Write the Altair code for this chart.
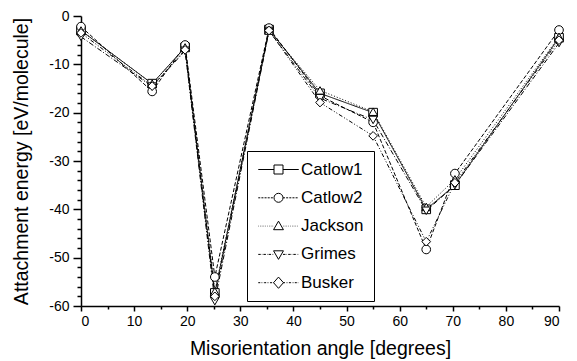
import altair as alt
import pandas as pd

angles = [0, 13.4, 19.6, 25.2, 35.4, 45, 55, 65, 70.4, 90]
series_names = ["Catlow1", "Catlow2", "Jackson", "Grimes", "Busker"]
catlow1 = [-3, -14, -6.5, -57.3, -2.8, -16, -20, -40, -35, -4.5]
catlow2 = [-2.2, -15.6, -6, -54, -2.5, -16.5, -22, -48.3, -32.6, -2.9]
jackson = [-3, -14, -6.5, -57, -3, -15.4, -19.8, -39.5, -33.8, -4.3]
grimes = [-4.3, -14.6, -7.2, -59, -3.1, -17, -21.5, -40.3, -35, -5.6]
busker = [-3.5, -14.5, -7, -58, -3, -17.9, -24.8, -46.7, -34.5, -5]

values = [catlow1, catlow2, jackson, grimes, busker]
rows = []
for name, vals in zip(series_names, values):
    for a, v in zip(angles, vals):
        rows.append({"series": name, "angle": a, "energy": v})
df = pd.DataFrame(rows)

FONT = "Liberation Sans"
dashes = [[1, 0], [4, 2], [1, 2], [5, 2, 1, 2], [4, 2, 1, 2, 1, 2]]
shapes = ["square", "circle", "triangle-up", "triangle-down", "diamond"]


def seg_path(pattern):
    out = []
    for start, end in [(-4.5, -1.0), (1.0, 4.5)]:
        x = start
        i = 0
        while x < end - 1e-6:
            d = pattern[i % len(pattern)]
            g = pattern[(i + 1) % len(pattern)]
            x2 = min(x + d, end)
            out.append(f"M{x:.2f},0L{max(x2, x + 0.05):.2f},0")
            x = x2 + g
            i += 2
    return "".join(out)


legend_patterns = [[3.5, 0.0], [0.45, 0.25], [0.1, 0.3], [0.55, 0.25, 0.1, 0.25],
                   [0.45, 0.22, 0.1, 0.22, 0.1, 0.22]]
marker_paths = [
    "M-1,-1L1,-1L1,1L-1,1Z",
    "M1,0A1,1 0 1,1 -1,0A1,1 0 1,1 1,0Z",
    "M0,-1.1L1.1,0.8L-1.1,0.8Z",
    "M0,1.1L1.1,-0.8L-1.1,-0.8Z",
    "M0,-1.25L1.1,0L0,1.25L-1.1,0Z",
]
legend_shapes = [seg_path(p) + m for p, m in zip(legend_patterns, marker_paths)]

x_ticks = list(range(0, 91, 5))
y_ticks = list(range(-60, 1, 2))

xenc = alt.X("angle:Q",
             scale=alt.Scale(domain=[0, 90], nice=False, zero=False),
             axis=alt.Axis(values=x_ticks,
                           labelExpr="indexof([0,10,20,30,40,50,60,70,80,90], datum.value) >= 0 ? '' + datum.value : ''",
                           labelOverlap=False,
                           tickSize={"condition": {"test": "datum.value % 10 === 0", "value": 5}, "value": 3},
                           title="Misorientation angle [degrees]",
                           titlePadding=11, labelPadding=3))
yenc = alt.Y("energy:Q",
             scale=alt.Scale(domain=[-60, 0], nice=False, zero=False),
             axis=alt.Axis(values=y_ticks,
                           labelExpr="indexof([0,-10,-20,-30,-40,-50,-60], datum.value) >= 0 ? '' + datum.value : ''",
                           labelOverlap=False,
                           tickSize={"condition": {"test": "datum.value % 10 === 0", "value": 8}, "value": 4},
                           title="Attachment energy [eV/molecule]",
                           titlePadding=17, labelPadding=4))

lines = alt.Chart(df).mark_line(color="black", strokeWidth=1).encode(
    x=xenc, y=yenc,
    strokeDash=alt.StrokeDash("series:N", scale=alt.Scale(domain=series_names, range=dashes), legend=None),
    detail="series:N",
)

points = alt.Chart(df).mark_point(filled=True, fill="white", stroke="black", strokeWidth=1, size=75, opacity=1).encode(
    x=xenc, y=yenc,
    shape=alt.Shape("series:N", scale=alt.Scale(domain=series_names, range=shapes), legend=None),
)

legend_layer = alt.Chart(df).mark_point(filled=False, color="black", strokeWidth=1, size=81, opacity=0).encode(
    x=xenc, y=yenc,
    shape=alt.Shape("series:N", scale=alt.Scale(domain=series_names, range=legend_shapes),
                    legend=alt.Legend(title=None, orient="none", legendX=166, legendY=135,
                                      fillColor="white", strokeColor="black", padding=10,
                                      symbolOpacity=1, symbolSize=81, symbolStrokeWidth=1,
                                      symbolStrokeColor="black", symbolFillColor="transparent",
                                      labelFont=FONT, labelFontSize=17, labelColor="black",
                                      labelOffset=14, rowPadding=10.3, symbolOffset=13)),
)

chart = alt.layer(lines, points, legend_layer).resolve_scale(shape="independent").properties(
    width=478, height=290,
    autosize=alt.AutoSizeParams(type="none"),
    padding={"left": 73, "top": 8, "right": 10, "bottom": 60},
).configure_view(stroke=None).configure_axis(
    labelFont=FONT, labelFontSize=14, labelColor="black", labelOverlap=False,
    titleFont=FONT, titleFontSize=19.5, titleFontWeight="normal", titleColor="black",
    domainColor="black", domainWidth=1.5, tickColor="black", tickWidth=1.5, grid=False,
)

chart.save("out.html", embed_options={"renderer": "svg", "actions": False})
